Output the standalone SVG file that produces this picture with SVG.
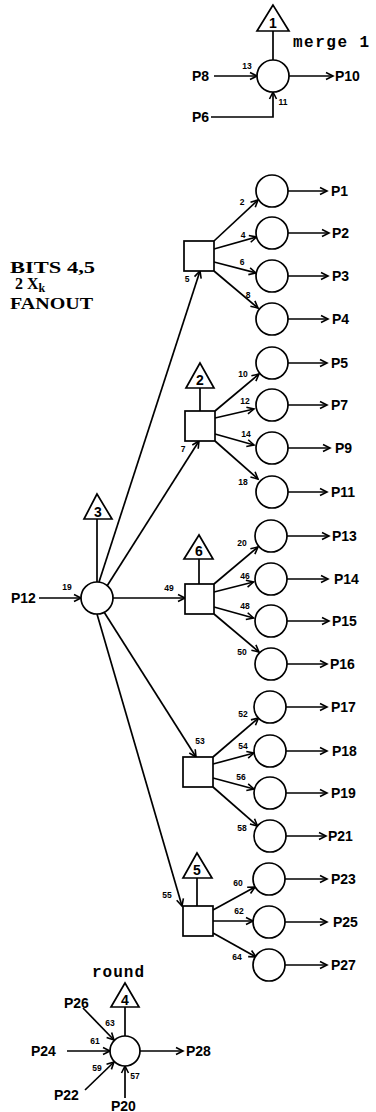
<svg xmlns="http://www.w3.org/2000/svg" width="376" height="1112" viewBox="0 0 376 1112">
<style>
.ln{fill:none;stroke:#000;stroke-width:1.7}
.ar{fill:none;stroke:#000;stroke-width:1.7;marker-end:url(#ah)}
.nd{fill:#fff;stroke:#000;stroke-width:1.7}
.p{font-family:"Liberation Sans",Arial,sans-serif;font-size:14px;font-weight:bold;fill:#000}
.e{font-family:"Liberation Sans",Arial,sans-serif;font-size:8.5px;font-weight:bold;fill:#000;text-anchor:middle}
.t{font-family:"Liberation Sans",Arial,sans-serif;font-size:14px;font-weight:bold;fill:#000;text-anchor:middle}
.m{font-family:"Liberation Mono","Courier New",monospace;font-size:16px;font-weight:bold;fill:#000;letter-spacing:1.5px}
.s{font-family:"Liberation Serif","Times New Roman",serif;font-size:16px;font-weight:bold;fill:#000}
</style>
<defs>
<marker id="ah" viewBox="-8 -5 10 10" refX="0" refY="0" markerWidth="10" markerHeight="10" markerUnits="userSpaceOnUse" orient="auto">
<path d="M-7,-3.5 L0,0 L-7,3.5" fill="none" stroke="#000" stroke-width="1.6"/>
</marker>
</defs>
<rect width="376" height="1112" fill="#fff"/>

<g id="connectors">
<!-- merge -->
<line class="ln" x1="273" y1="31" x2="273" y2="60"/>
<line class="ar" x1="214" y1="76" x2="257" y2="76"/>
<polyline class="ar" points="211,117 273,117 273,92"/>
<line class="ar" x1="289" y1="76" x2="333" y2="76"/>
<!-- node 3 -->
<line class="ln" x1="97" y1="519" x2="97" y2="582"/>
<line class="ar" x1="39" y1="598" x2="81" y2="598"/>
<line class="ar" x1="113" y1="598" x2="185" y2="598"/>
<line class="ar" x1="99" y1="582" x2="200" y2="271"/>
<line class="ar" x1="107" y1="586" x2="199" y2="441"/>
<line class="ar" x1="104" y1="612" x2="196" y2="757"/>
<line class="ar" x1="97" y1="614" x2="182" y2="906"/>
<!-- square 1 -->
<line class="ar" x1="214" y1="241" x2="258" y2="200"/>
<line class="ar" x1="214" y1="249" x2="256.5" y2="237"/>
<line class="ar" x1="214" y1="262" x2="256" y2="273"/>
<line class="ar" x1="214" y1="271" x2="258" y2="308"/>
<line class="ar" x1="288" y1="191" x2="327" y2="191"/>
<line class="ar" x1="288" y1="233" x2="329" y2="233"/>
<line class="ar" x1="288" y1="276" x2="328" y2="276"/>
<line class="ar" x1="288" y1="319" x2="328" y2="319"/>
<!-- square 2 -->
<line class="ln" x1="200" y1="388" x2="200" y2="411"/>
<line class="ar" x1="215" y1="411" x2="259" y2="374"/>
<line class="ar" x1="215" y1="418" x2="254" y2="409"/>
<line class="ar" x1="215" y1="434" x2="254" y2="445"/>
<line class="ar" x1="215" y1="441" x2="258" y2="479"/>
<line class="ar" x1="288" y1="363" x2="327" y2="363"/>
<line class="ar" x1="288" y1="405" x2="327" y2="405"/>
<line class="ar" x1="288" y1="448" x2="330" y2="448"/>
<line class="ar" x1="288" y1="492" x2="327" y2="492"/>
<!-- square 6 -->
<line class="ln" x1="199" y1="559" x2="199" y2="584"/>
<line class="ar" x1="214" y1="584" x2="258" y2="547"/>
<line class="ar" x1="214" y1="592" x2="253.5" y2="582"/>
<line class="ar" x1="214" y1="607" x2="253.5" y2="618"/>
<line class="ar" x1="214" y1="614" x2="259" y2="652"/>
<line class="ar" x1="287" y1="536" x2="329" y2="536"/>
<line class="ar" x1="287" y1="579" x2="328" y2="579"/>
<line class="ar" x1="287" y1="621" x2="329" y2="621"/>
<line class="ar" x1="287" y1="664" x2="327" y2="664"/>
<!-- square 53 -->
<line class="ar" x1="213" y1="757" x2="258.5" y2="718"/>
<line class="ar" x1="213" y1="764" x2="254" y2="753"/>
<line class="ar" x1="213" y1="778" x2="254" y2="789"/>
<line class="ar" x1="213" y1="787" x2="257.5" y2="826"/>
<line class="ar" x1="286" y1="707" x2="327" y2="707"/>
<line class="ar" x1="286" y1="751" x2="327" y2="751"/>
<line class="ar" x1="286" y1="793" x2="327" y2="793"/>
<line class="ar" x1="286" y1="836" x2="326" y2="836"/>
<!-- square 55 -->
<line class="ln" x1="197" y1="878" x2="197" y2="906"/>
<line class="ar" x1="213" y1="910" x2="255" y2="887"/>
<line class="ar" x1="213" y1="921" x2="253" y2="921"/>
<line class="ar" x1="213" y1="933" x2="256" y2="957"/>
<line class="ar" x1="285" y1="879" x2="327" y2="879"/>
<line class="ar" x1="285" y1="922" x2="327" y2="922"/>
<line class="ar" x1="285" y1="965" x2="327" y2="965"/>
<!-- round -->
<line class="ln" x1="125" y1="1007" x2="125" y2="1036"/>
<line class="ar" x1="83" y1="1008" x2="114" y2="1040"/>
<line class="ar" x1="67" y1="1051" x2="110" y2="1051"/>
<line class="ar" x1="85" y1="1090" x2="114" y2="1062"/>
<line class="ar" x1="125" y1="1098" x2="125" y2="1066"/>
<line class="ar" x1="140" y1="1051" x2="183" y2="1051"/>
</g>

<g id="edge-labels">
<text class="e" x="247" y="69">13</text>
<text class="e" x="283" y="105">11</text>
<text class="e" x="67" y="590">19</text>
<text class="e" x="169" y="591">49</text>
<text class="e" x="242" y="205">2</text>
<text class="e" x="243" y="238">4</text>
<text class="e" x="242" y="265">6</text>
<text class="e" x="248" y="298">8</text>
<text class="e" x="187" y="282">5</text>
<text class="e" x="243" y="377">10</text>
<text class="e" x="245" y="404">12</text>
<text class="e" x="246" y="437">14</text>
<text class="e" x="243" y="485">18</text>
<text class="e" x="183" y="452">7</text>
<text class="e" x="242" y="546">20</text>
<text class="e" x="245" y="579">46</text>
<text class="e" x="245" y="609">48</text>
<text class="e" x="242" y="655">50</text>
<text class="e" x="200" y="744">53</text>
<text class="e" x="243" y="717">52</text>
<text class="e" x="243" y="749">54</text>
<text class="e" x="241" y="780">56</text>
<text class="e" x="242" y="831">58</text>
<text class="e" x="167" y="898">55</text>
<text class="e" x="238" y="886">60</text>
<text class="e" x="239" y="914">62</text>
<text class="e" x="237" y="960">64</text>
<text class="e" x="110" y="1026">63</text>
<text class="e" x="95" y="1044">61</text>
<text class="e" x="97" y="1071">59</text>
<text class="e" x="135" y="1079">57</text>
</g>

<g id="merge1">
<polygon class="nd" points="273,5 257,31 289,31"/>
<text class="t" x="273" y="28">1</text>
<circle class="nd" cx="273" cy="76" r="16"/>
<text class="m" x="293" y="47">merge 1</text>
<text class="p" x="192" y="81">P8</text>
<text class="p" x="192" y="122">P6</text>
<text class="p" x="335" y="81">P10</text>
</g>

<g id="title">
<text class="s" x="10" y="273" textLength="85" lengthAdjust="spacingAndGlyphs">BITS 4,5</text>
<text class="s" x="15" y="289">2 X<tspan font-size="12" dy="3">k</tspan></text>
<text class="s" x="10" y="309" textLength="83" lengthAdjust="spacingAndGlyphs">FANOUT</text>
</g>

<g id="node3">
<polygon class="nd" points="97,494 84,519 112,519"/>
<text class="t" x="98" y="517">3</text>
<circle class="nd" cx="97" cy="598" r="16"/>
<text class="p" x="11" y="603">P12</text>
</g>

<g id="square1">
<rect class="nd" x="184" y="241" width="30" height="30"/>
<circle class="nd" cx="272" cy="191" r="16"/>
<circle class="nd" cx="272" cy="233" r="16"/>
<circle class="nd" cx="272" cy="276" r="16"/>
<circle class="nd" cx="272" cy="319" r="16"/>
<text class="p" x="331" y="196">P1</text>
<text class="p" x="332" y="238">P2</text>
<text class="p" x="332" y="281">P3</text>
<text class="p" x="332" y="324">P4</text>
</g>

<g id="square2">
<polygon class="nd" points="200,363 186,388 214,388"/>
<text class="t" x="200" y="385">2</text>
<rect class="nd" x="185" y="411" width="30" height="30"/>
<circle class="nd" cx="272" cy="363" r="16"/>
<circle class="nd" cx="272" cy="405" r="16"/>
<circle class="nd" cx="272" cy="448" r="16"/>
<circle class="nd" cx="272" cy="492" r="16"/>
<text class="p" x="331" y="368">P5</text>
<text class="p" x="331" y="410">P7</text>
<text class="p" x="335" y="453">P9</text>
<text class="p" x="331" y="497">P11</text>
</g>

<g id="square6">
<polygon class="nd" points="199,535 184,559 213,559"/>
<text class="t" x="199" y="556">6</text>
<rect class="nd" x="185" y="584" width="29" height="30"/>
<circle class="nd" cx="271" cy="536" r="16"/>
<circle class="nd" cx="271" cy="579" r="16"/>
<circle class="nd" cx="271" cy="621" r="16"/>
<circle class="nd" cx="271" cy="664" r="16"/>
<text class="p" x="332" y="541">P13</text>
<text class="p" x="334" y="584">P14</text>
<text class="p" x="332" y="626">P15</text>
<text class="p" x="330" y="669">P16</text>
</g>

<g id="square53">
<rect class="nd" x="183" y="757" width="30" height="30"/>
<circle class="nd" cx="270" cy="707" r="16"/>
<circle class="nd" cx="270" cy="751" r="16"/>
<circle class="nd" cx="270" cy="793" r="16"/>
<circle class="nd" cx="270" cy="836" r="16"/>
<text class="p" x="331" y="712">P17</text>
<text class="p" x="332" y="756">P18</text>
<text class="p" x="331" y="798">P19</text>
<text class="p" x="328" y="841">P21</text>
</g>

<g id="square55">
<polygon class="nd" points="197,853 183,878 212,878"/>
<text class="t" x="197" y="875">5</text>
<rect class="nd" x="183" y="906" width="30" height="30"/>
<circle class="nd" cx="269" cy="879" r="16"/>
<circle class="nd" cx="269" cy="922" r="16"/>
<circle class="nd" cx="269" cy="965" r="16"/>
<text class="p" x="331" y="884">P23</text>
<text class="p" x="333" y="927">P25</text>
<text class="p" x="331" y="970">P27</text>
</g>

<g id="round">
<text class="m" x="92" y="977" style="letter-spacing:1px">round</text>
<polygon class="nd" points="125,983 111,1007 139,1007"/>
<text class="t" x="125" y="1005">4</text>
<circle class="nd" cx="125" cy="1051" r="15"/>
<text class="p" x="64" y="1008">P26</text>
<text class="p" x="31" y="1056">P24</text>
<text class="p" x="54" y="1100">P22</text>
<text class="p" x="111" y="1111">P20</text>
<text class="p" x="186" y="1056">P28</text>
</g>
</svg>
